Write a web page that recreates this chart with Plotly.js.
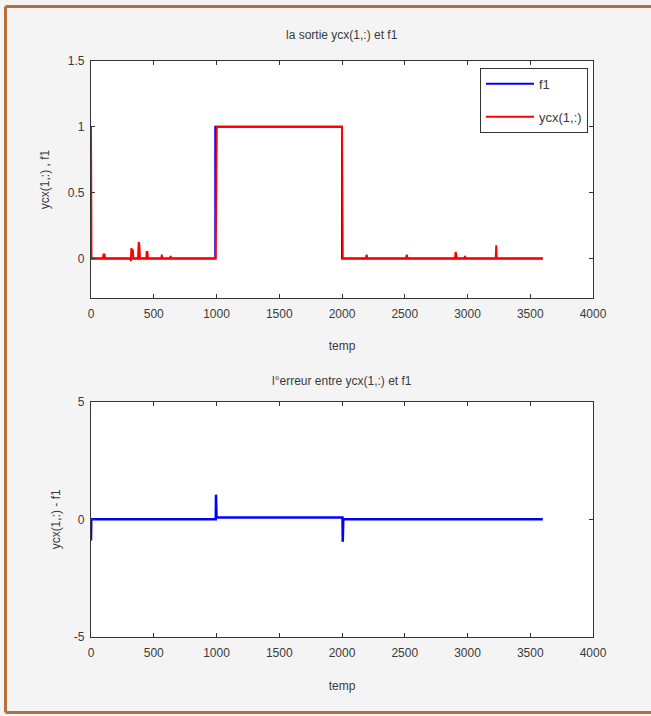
<!DOCTYPE html>
<html>
<head>
<meta charset="utf-8">
<script src="https://cdn.plot.ly/plotly-3.0.1.min.js"></script>
<style>
  html, body { margin: 0; padding: 0; background: #f4f4f4; overflow: hidden; }
  #chart { width: 651px; height: 716px; }
</style>
</head>
<body>
<div id="chart"></div>
<script>
// ----- data -----
const f1Time  = [0, 990, 990, 2000, 2000, 3600];
const f1Value = [0, 0,   1,   1,    0,    0];

const ycxTime  = [0, 4, 95, 100, 108, 112, 315, 318, 322, 328, 333, 338, 375, 380, 386, 390,
                  440, 444, 450, 454, 560, 564, 568, 630, 634, 638, 994, 998, 1002, 2000, 2006,
                  2190, 2196, 2202, 2510, 2516, 2522, 2900, 2906, 2912, 2916, 2975, 2980, 2984,
                  3225, 3229, 3233, 3600];
const ycxValue = [1, 0, 0, 0.03, 0.03, 0, 0, -0.02, 0.08, 0.02, 0.07, 0, 0, 0.125, 0.1, 0,
                  0, 0.05, 0.05, 0, 0, 0.03, 0, 0, 0.02, 0, 0, 1.0, 1, 1, 0,
                  0, 0.03, 0, 0, 0.03, 0, 0, 0.05, 0.02, 0, 0, 0.02, 0,
                  0, 0.1, 0, 0];

const errTime  = [0, 2, 994, 996, 1000, 2004, 2006, 2010, 3600];
const errValue = [-0.9, 0, 0, 1.05, 0.08, 0.08, -0.95, 0, 0];

const xTickVals = [0, 500, 1000, 1500, 2000, 2500, 3000, 3500, 4000];
const topYTicks = [0, 0.5, 1, 1.5];
const botYTicks = [-5, 0, 5];
const botYLabels = ['-5', '0', '5'];

const titleTop = 'la sortie ycx(1,:) et f1';
const titleBot = 'l°erreur entre ycx(1,:) et f1';
const yTitleTop = 'ycx(1,:) , f1';
const yTitleBot = 'ycx(1,:) - f1';
const xTitle = 'temp';

// ----- chart -----
const FONT = 'Liberation Sans, Arial, sans-serif';
const TXT = '#3a3a3a';
const BROWN = '#b5703c';

const traces = [
  { x: f1Time, y: f1Value, type: 'scatter', mode: 'lines', name: 'f1',
    line: { color: '#0000ff', width: 2 }, xaxis: 'x', yaxis: 'y', legendgroup: 'a' },
  { x: ycxTime, y: ycxValue, type: 'scatter', mode: 'lines', name: 'ycx(1,:)',
    line: { color: '#ff0000', width: 2 }, xaxis: 'x', yaxis: 'y', legendgroup: 'b' },
  { x: errTime, y: errValue, type: 'scatter', mode: 'lines', name: 'err',
    line: { color: '#0000ff', width: 2.5 }, xaxis: 'x2', yaxis: 'y2', showlegend: false }
];

const axisCommon = {
  showgrid: false, zeroline: false, showline: true, linecolor: '#333', linewidth: 1.2,
  mirror: 'ticks', ticks: 'inside', ticklen: 4, tickcolor: '#333',
  tickfont: { family: FONT, size: 12, color: TXT }
};

// decorative figure frame (left, top, bottom edges), in paper units of the plot area
const frameLine = { color: BROWN, width: 3 };
const frameShapes = [
  { type: 'line', xref: 'paper', yref: 'paper', x0: -0.1703, x1: -0.1703, y0: 1.0946, y1: -0.1311, line: frameLine, layer: 'above' },
  { type: 'line', xref: 'paper', yref: 'paper', x0: -0.1703, x1: 1.12, y0: 1.0946, y1: 1.0946, line: frameLine, layer: 'above' },
  { type: 'line', xref: 'paper', yref: 'paper', x0: -0.1703, x1: 1.12, y0: -0.1311, y1: -0.1311, line: frameLine, layer: 'above' }
];

const layout = {
  width: 651, height: 716,
  margin: { l: 91, r: 58, t: 61, b: 79 },
  paper_bgcolor: '#f4f4f4', plot_bgcolor: '#ffffff',
  font: { family: FONT, size: 12, color: TXT },
  showlegend: true,
  legend: { x: 0.99, y: 0.988, xanchor: 'right', yanchor: 'top',
            bgcolor: '#ffffff', bordercolor: '#333', borderwidth: 1,
            font: { family: FONT, size: 13, color: TXT },
            itemwidth: 48,
            tracegroupgap: 13, traceorder: 'grouped' },
  xaxis: Object.assign({}, axisCommon, {
    domain: [0, 1], anchor: 'y', range: [0, 4000], tickvals: xTickVals, ticklabelstandoff: 4,
    title: { text: xTitle, font: { family: FONT, size: 12, color: TXT }, standoff: 22 }
  }),
  yaxis: Object.assign({}, axisCommon, {
    domain: [0.5885, 1], anchor: 'x', range: [-0.3, 1.5], tickvals: topYTicks, ticklabelstandoff: 3,
    title: { text: yTitleTop, font: { family: FONT, size: 12, color: TXT }, standoff: 15 }
  }),
  xaxis2: Object.assign({}, axisCommon, {
    domain: [0, 1], anchor: 'y2', range: [0, 4000], tickvals: xTickVals, ticklabelstandoff: 4,
    title: { text: xTitle, font: { family: FONT, size: 12, color: TXT }, standoff: 23 }
  }),
  yaxis2: Object.assign({}, axisCommon, {
    domain: [0, 0.4085], anchor: 'x2', range: [-5, 5], tickvals: botYTicks, ticktext: botYLabels,
    ticklabelstandoff: 3,
    title: { text: yTitleBot, font: { family: FONT, size: 12, color: TXT }, standoff: 10 }
  }),
  shapes: frameShapes,
  annotations: [
    { text: titleTop, xref: 'paper', yref: 'paper', x: 0.5, y: 1.045, showarrow: false,
      xanchor: 'center', yanchor: 'middle', font: { family: FONT, size: 12, color: TXT } },
    { text: titleBot, xref: 'paper', yref: 'paper', x: 0.5, y: 0.444, showarrow: false,
      xanchor: 'center', yanchor: 'middle', font: { family: FONT, size: 12, color: TXT } }
  ]
};

Plotly.newPlot('chart', traces, layout, { displayModeBar: false, staticPlot: true });
</script>
</body>
</html>
